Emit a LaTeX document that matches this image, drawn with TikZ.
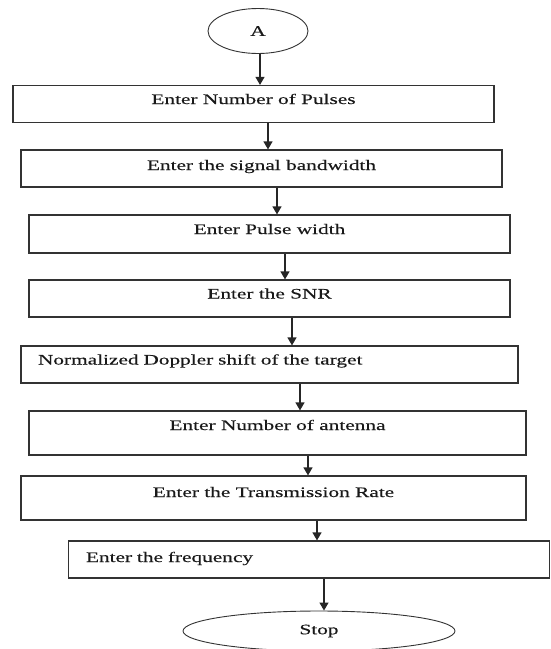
\documentclass[tikz,border=0pt]{standalone}
\usepackage{fontspec}
\setmainfont[FakeStretch=1.47,FakeBold=0.3]{Liberation Serif}
\usepackage{tikz}
\usetikzlibrary{positioning,shapes.geometric,arrows.meta}

\begin{document}
\begin{tikzpicture}[
	% --- KHUNG TOẠ ĐỘ: 1 đơn vị = 1pt, trục y đi xuống ---
	x=1pt, y=-1pt,
	every node/.style={
		font=\fontsize{14.5}{17}\selectfont, text=black!90,
		inner ysep=0pt
	},
	% Khối nhập liệu (chữ hơi lệch lên trên)
	stage/.style={
		draw=black!80, line width=1.2pt, rectangle,
		minimum width=481pt, minimum height=37pt,
		text height=10pt, text depth=10pt
	},
	% Khối có chữ canh trái
	leftstage/.style={stage, text width=#1, align=left, inner xsep=17pt},
	% Hình elip bắt đầu / kết thúc
	terminal/.style={draw=black!80, line width=0.9pt, ellipse, inner sep=0pt},
	flow/.style={draw=black!85, line width=1.2pt, -{Triangle[length=8pt,width=9pt]}}
	]
	\useasboundingbox (0,0) rectangle (550,649);

	% Điểm nối A
	\node[terminal, minimum width=100pt, minimum height=45pt] (start) at (258,31) {A\hspace{20pt}};

	% Các bước nhập
	\node[stage] (pulses) at (253.5,104) {Enter Number of Pulses};
	\node[stage, text depth=7pt] (bandwidth) at (261.5,168.5) {Enter the signal bandwidth};
	\node[stage, minimum height=38pt] (pwidth) at (269.5,234) {Enter Pulse width};
	\node[stage] (snr) at (269.5,298.5) {Enter the SNR};
	\node[leftstage=463pt] (doppler) at (269.5,364.5) {Normalized Doppler shift of the target};
	\node[stage, minimum width=497pt, minimum height=44pt, text depth=16pt] (antenna) at (277.5,433) {Enter Number of antenna};
	\node[stage, minimum width=505pt, minimum height=44pt, text depth=12pt] (rate) at (273.5,498) {Enter the Transmission Rate};
	\node[leftstage=446pt, text depth=5pt] (freq) at (309,559.5) {Enter the frequency};

	% Kết thúc
	\node[terminal, minimum width=272pt, minimum height=40pt] (stop) at (319,631) {Stop};

	% Mũi tên
	\draw[flow] ([xshift=2pt]start.south) -- ([xshift=2pt]start.south |- pulses.north);
	\draw[flow] ([xshift=14.5pt]pulses.south) -- ([xshift=14.5pt]pulses.south |- bandwidth.north);
	\draw[flow] ([xshift=15.5pt]bandwidth.south) -- ([xshift=15.5pt]bandwidth.south |- pwidth.north);
	\draw[flow] ([xshift=15.5pt]pwidth.south) -- ([xshift=15.5pt]pwidth.south |- snr.north);
	\draw[flow] ([xshift=22.5pt]snr.south) -- ([xshift=22.5pt]snr.south |- doppler.north);
	\draw[flow] ([xshift=30.5pt]doppler.south) -- ([xshift=30.5pt]doppler.south |- antenna.north);
	\draw[flow] ([xshift=30.5pt]antenna.south) -- ([xshift=30.5pt]antenna.south |- rate.north);
	\draw[flow] ([xshift=43.5pt]rate.south) -- ([xshift=43.5pt]rate.south |- freq.north);
	\draw[flow] ([xshift=15pt]freq.south) -- ([xshift=15pt]freq.south |- stop.north);
\end{tikzpicture}
\end{document}
